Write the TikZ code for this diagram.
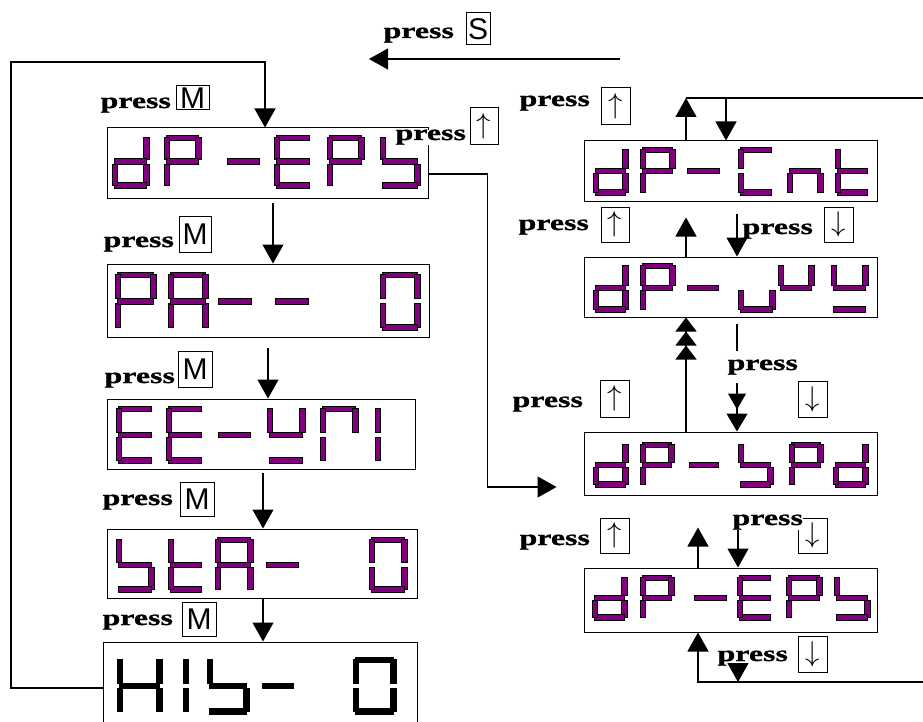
\documentclass[tikz,border=0pt]{standalone}
\usepackage{fontspec}
\usetikzlibrary{arrows.meta}
\newfontfamily\pressfont{Liberation Serif}[FakeStretch=1.45, FakeBold=1.2]
\newfontfamily\keyfont{Liberation Sans}
\definecolor{segpurple}{RGB}{128,0,128}
\newcommand\keyup{\scalebox{1.15}{$\uparrow$}}
\newcommand\keydown{\scalebox{1.15}{$\downarrow$}}
% seven-segment cells: \chx = left edge, \chw = width, \dtop/\dht = display row
\newcommand\segcol{segpurple}
\newcommand\seggap{2.5}
\newcommand\segth{5.5}
\newcommand\sega{\filldraw[seg] (\chx+\seggap,\dtop) rectangle (\chx+\chw-\seggap,\dtop+\segth);}
\newcommand\segb{\filldraw[seg] (\chx+\chw-\segth,\dtop+\seggap) rectangle (\chx+\chw,\dtop+\dht/2-\seggap);}
\newcommand\segc{\filldraw[seg] (\chx+\chw-\segth,\dtop+\dht/2+\seggap) rectangle (\chx+\chw,\dtop+\dht-\seggap);}
\newcommand\segd{\filldraw[seg] (\chx+\seggap,\dtop+\dht-\segth) rectangle (\chx+\chw-\seggap,\dtop+\dht);}
\newcommand\sege{\filldraw[seg] (\chx,\dtop+\dht/2+\seggap) rectangle (\chx+\segth,\dtop+\dht-\seggap);}
\newcommand\segf{\filldraw[seg] (\chx,\dtop+\seggap) rectangle (\chx+\segth,\dtop+\dht/2-\seggap);}
\newcommand\segg{\filldraw[seg] (\chx+\seggap,\dtop+\dht/2-\segth/2) rectangle (\chx+\chw-\seggap,\dtop+\dht/2+\segth/2);}
\newcommand\segdisplay[3]{\def\dtop{#1}\def\dht{#2}%
  \foreach \chx/\chw/\chs in {#3}{\foreach \sg in \chs {\csname seg\sg\endcsname}}}

\begin{document}
\begin{tikzpicture}[x=1pt, y=-1pt, line width=1.2pt,
  >={Triangle[length=19pt,width=21pt]},
  disp/.style 2 args={draw, line width=1pt, inner sep=0pt, minimum width=#1, minimum height=#2},
  key/.style 2 args={draw, line width=1pt, inner sep=0pt, minimum width=#1, minimum height=#2,
                     font=\keyfont\fontsize{30}{30}\selectfont},
  press/.style={font=\pressfont\bfseries\fontsize{22}{22}\selectfont, fill=white,
                inner sep=0pt, anchor=base west},
  arr/.style={->},
  arrtwo/.style={-{Triangle[length=16pt,width=18pt,sep=4pt] Triangle[length=18pt,width=21pt]}},
  arrthree/.style={-{Triangle[length=14pt,width=21pt] Triangle[length=14pt,width=21pt]
                     Triangle[length=14pt,width=21pt]}},
  seg/.style={fill=\segcol, draw=black, line width=0.5pt}]
\useasboundingbox (0,0) rectangle (923,722);
\clip (0,0) rectangle (923,722);
% left column displays
\node[disp={321pt}{71pt}] (epsl) at (267.5,163.5) {};
\node[disp={322pt}{73pt}] (pa) at (268,300.5) {};
\node[disp={308pt}{70pt}] (ee) at (261,434) {};
\node[disp={310pt}{69pt}] (sta) at (262,563.5) {};
\node[disp={314pt}{92pt}] (his) at (260,688) {};
% right column displays
\node[disp={293pt}{61pt}] (cnt) at (730.5,171.5) {};
\node[disp={293pt}{60pt}] (uu) at (730.5,287) {};
\node[disp={293pt}{63pt}] (spd) at (730.5,463.5) {};
\node[disp={293pt}{64pt}] (epsr) at (730.5,600) {};
% segments
\segdisplay{135}{53}{112/37/{b,c,d,e,g}, 164/37/{a,b,e,f,g}, 225/37/{g}, 274/38/{a,d,e,f,g},
  327/37/{a,b,e,f,g}, 380/40/{c,d,f,g}}
\segdisplay{272}{58}{115/41/{a,b,e,f,g}, 168/40/{a,b,c,e,f,g}, 216/38/{g}, 273/38/{g},
  380/40/{a,b,c,d,e,f}}
\segdisplay{406}{57}{116/38/{a,d,e,f,g}, 166/38/{a,d,e,f,g}, 216/37/{g}, 267/38/{b,d,f,g},
  320/38/{a,b,e,f}, 375/20/{e,f}}
\segdisplay{537}{55}{116/38/{c,d,f,g}, 168/36/{d,e,f,g}, 215/38/{a,b,c,e,f,g}, 264/37/{g},
  369/38/{a,b,c,d,e,f}}
\segdisplay{147}{48}{593/35/{b,c,d,e,g}, 640/35/{a,b,e,f,g}, 685/37/{g}, 738/36/{a,d,e,f},
  787/36/{c,e,g}, 835/35/{d,e,f,g}}
\segdisplay{263}{49}{593/35/{b,c,d,e,g}, 640/35/{a,b,e,f,g}, 685/36/{g}, 738/37/{c,d,e},
  778/36/{b,f,g}, 831/37/{b,d,f,g}}
\segdisplay{442}{45}{593/35/{b,c,d,e,g}, 640/34/{a,b,e,f,g}, 687/34/{g}, 738/35/{c,d,f,g},
  789/34/{a,b,e,f,g}, 833/35/{b,c,d,e,g}}
\segdisplay{575}{45}{592/35/{b,c,d,e,g}, 640/34/{a,b,e,f,g}, 692/37/{g}, 737/36/{a,d,e,f,g},
  786/36/{a,b,e,f,g}, 834/36/{c,d,f,g}}
\renewcommand\segcol{black}
\segdisplay{657}{57}{117/45/{b,c,e,f,g}, 183/20/{e,f}, 207/42/{c,d,f,g}, 260/36/{g},
  353/43/{a,b,c,d,e,f}}
% key labels, left
\node[key={33pt}{24pt}] (kM1) at (192.5,98) {M};
\node[press] (pM1) at (100,108) {press};
\node[key={32pt}{36pt}] (kM2) at (195,234) {M};
\node[press] (pM2) at (103,247) {press};
\node[key={34pt}{36pt}] (kM3) at (195,369) {M};
\node[press] (pM3) at (104,383) {press};
\node[key={34pt}{34pt}] (kM4) at (197,499) {M};
\node[press] (pM4) at (102,505) {press};
\node[key={34pt}{34pt}] (kM5) at (199,619) {M};
\node[press] (pM5) at (102,625) {press};
\node[key={24pt}{32pt}] (kS) at (478,29) {S};
\node[press] (pS) at (383,38) {press};
\node[key={28pt}{37pt}] (kU0) at (484,126.5) {\keyup};
\node[press] (pU0) at (395,140) {press};
% key labels, right
\node[key={29pt}{37pt}] (kU1) at (615.5,106.5) {\keyup};
\node[press] (pU1) at (519,106) {press};
\node[key={28pt}{35pt}] (kU2) at (615,224.5) {\keyup};
\node[press] (pU2) at (518,230) {press};
\node[key={29pt}{35pt}] (kD2) at (838.5,224.5) {\keydown};
\node[press] (pD2) at (742,234) {press};
\node[key={29pt}{37pt}] (kU3) at (614.5,398.5) {\keyup};
\node[press] (pU3) at (512,407) {press};
\node[key={29pt}{36pt}] (kD3) at (812.5,399) {\keydown};
\node[press] (pD3) at (727,370) {press};
\node[key={29pt}{35pt}] (kU4) at (614.5,535.5) {\keyup};
\node[press] (pU4) at (519,545) {press};
\node[key={29pt}{35pt}] (kD4) at (812.5,535.5) {\keydown};
\node[press] (pD4) at (732,525) {press};
\node[key={29pt}{36pt}] (kD5) at (812.5,654) {\keydown};
\node[press] (pD5) at (717,661) {press};
% free ends
\coordinate (loop) at (11,62);
\coordinate (sfrom) at (620,59);
\coordinate (sto) at (369,59);
\coordinate (rtop) at (935,98);
\coordinate (rbot) at (935,682);
% left column arrows
\draw[arr] (his.west) -| (loop) -| ([xshift=-2.5pt]epsl.north);
\draw[arr, shorten <=4pt] ([xshift=5.5pt]epsl.south) -- ([xshift=5.5pt]epsl.south |- pa.north);
\draw[arr, shorten <=10pt] (pa.south) -- (pa.south |- ee.north);
\draw[arr, shorten <=3pt] ([xshift=2pt]ee.south) -- ([xshift=2pt]ee.south |- sta.north);
\draw[arr] ([xshift=1pt]sta.south) -- ([xshift=1pt]sta.south |- his.north);
\draw[arr] (sfrom) -- (sto);
\draw[arr, shorten >=27pt] ([yshift=-10.5pt]epsl.east) -| ([xshift=-96pt,yshift=-23.5pt]spd.west)
  -- ([yshift=-23.5pt]spd.west);
% right column arrows
\draw[arr] ([xshift=-44.5pt]cnt.north) -- ([xshift=-44.5pt]cnt.north |- rtop);
\draw ([xshift=-44.5pt]cnt.north |- rtop) -- (rtop) -- (rbot);
\draw[arr] (rbot) -| ([xshift=-32.5pt]epsr.south);
\draw[arr] ([xshift=-4.5pt]cnt.north |- rtop) -- ([xshift=-4.5pt]cnt.north);
\draw[arr, shorten >=15pt] ([xshift=-44.5pt]uu.north) -- ([xshift=-44.5pt]uu.north |- cnt.south);
\draw[arr, shorten <=11pt] ([xshift=6.5pt]cnt.south) -- ([xshift=6.5pt]cnt.south |- uu.north);
\draw[arrthree] ([xshift=-44.5pt]spd.north) -- ([xshift=-44.5pt]spd.north |- uu.south);
\draw[shorten <=6pt, shorten >=8pt] ([xshift=6.5pt]uu.south) -- ([xshift=6.5pt]uu.south |- pD3.north);
\draw[arrtwo, shorten <=8pt] ([xshift=6.5pt]uu.south |- pD3.south) -- ([xshift=6.5pt]spd.north);
\draw[arr, shorten >=32pt] ([xshift=-32.5pt]epsr.north) -- ([xshift=-32.5pt]epsr.north |- spd.south);
\draw[arr] ([xshift=7.5pt]epsr.north |- pD4.south) -- ([xshift=7.5pt]epsr.north);
\draw[arr] ([xshift=7.5pt]epsr.south |- pD5.south) -- ([xshift=7.5pt]epsr.south |- rbot);
\end{tikzpicture}
\end{document}
